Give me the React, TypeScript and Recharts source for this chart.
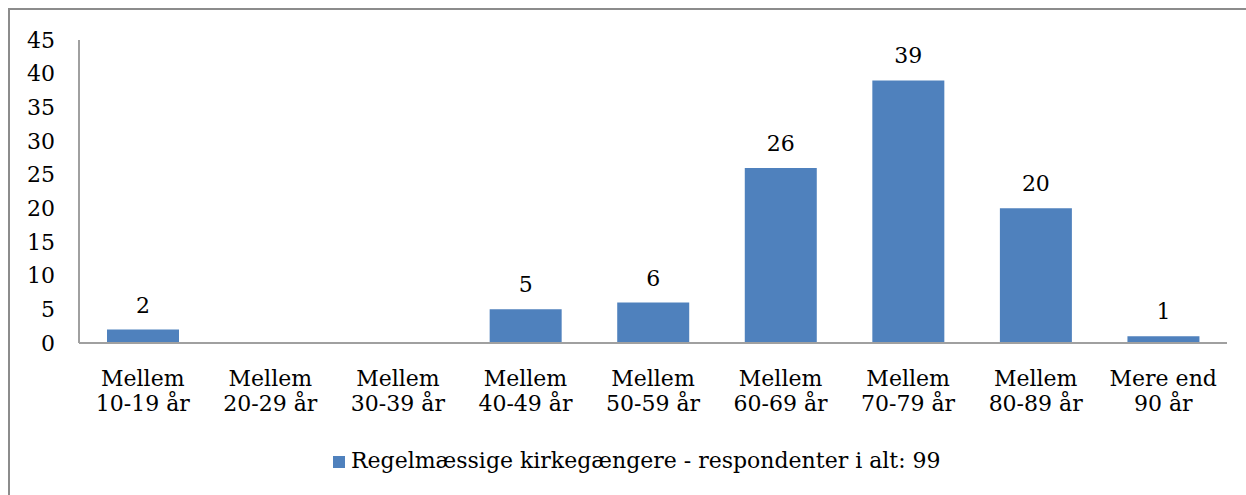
import React from "react";
import { Bar, BarChart, LabelList, Legend, XAxis, YAxis } from "recharts";

const categories = [
  "Mellem|10-19 år",
  "Mellem|20-29 år",
  "Mellem|30-39 år",
  "Mellem|40-49 år",
  "Mellem|50-59 år",
  "Mellem|60-69 år",
  "Mellem|70-79 år",
  "Mellem|80-89 år",
  "Mere end|90 år",
];
const counts = [2, 0, 0, 5, 6, 26, 39, 20, 1];
const yTicks = [0, 5, 10, 15, 20, 25, 30, 35, 40, 45];
const seriesName = "Regelmæssige kirkegængere - respondenter i alt: 99";

const FONT = "'DejaVu Serif', serif";
const FS = 22;
const BLUE = "#4F81BD";

const data = categories.map((c, i) => ({ name: c, value: counts[i] }));

function TwoLineTick(props: any) {
  const { x, y, payload } = props;
  const lines = String(payload.value).split("|");
  return (
    <text x={x} y={y} textAnchor="middle" fontFamily={FONT} fontSize={FS} fill="#000">
      {lines.map((l, i) => (
        <tspan key={i} x={x} dy={i === 0 ? 35 : 25}>
          {l}
        </tspan>
      ))}
    </text>
  );
}

function ValueLabel(props: any) {
  const { x, y, width, value } = props;
  if (!value) return null;
  return (
    <text x={x + width / 2} y={y - 17} textAnchor="middle" fontFamily={FONT} fontSize={FS} fill="#000">
      {value}
    </text>
  );
}

export default function App() {
  return (
    <>
      <style>{"html,body{margin:0;overflow:hidden;background:#fff}"}</style>
      <div
        style={{
          position: "absolute",
          left: 8,
          top: 8,
          width: 1238,
          height: 487,
          overflow: "hidden",
          borderTop: "2px solid #8c8c8c",
          borderLeft: "2px solid #8c8c8c",
          boxSizing: "border-box",
          background: "#fff",
        }}
      >
        <BarChart
          width={1226}
          height={469}
          data={data}
          margin={{ top: 30, right: 9, bottom: 6, left: 0 }}
        >
          <XAxis
            dataKey="name"
            interval={0}
            height={105}
            tick={<TwoLineTick />}
            tickLine={false}
            axisLine={{ stroke: "#a0a0a0", strokeWidth: 2 }}
          />
          <YAxis
            width={69}
            domain={[0, 45]}
            ticks={yTicks}
            interval={0}
            tickLine={false}
            tickSize={0}
            tickMargin={24}
            axisLine={{ stroke: "#a0a0a0", strokeWidth: 2 }}
            tick={{ fontFamily: FONT, fontSize: FS, fill: "#000" }}
          />
          <Legend
            verticalAlign="bottom"
            align="left"
            iconType="square"
            iconSize={12}
            wrapperStyle={{ left: 323, fontFamily: FONT, fontSize: FS, color: "#000" }}
            formatter={() => <span style={{ color: "#000", marginLeft: 2 }}>{seriesName}</span>}
          />
          <Bar dataKey="value" name={seriesName} fill={BLUE} barSize={72} isAnimationActive={false}>
            <LabelList dataKey="value" content={<ValueLabel />} />
          </Bar>
        </BarChart>
      </div>
    </>
  );
}
